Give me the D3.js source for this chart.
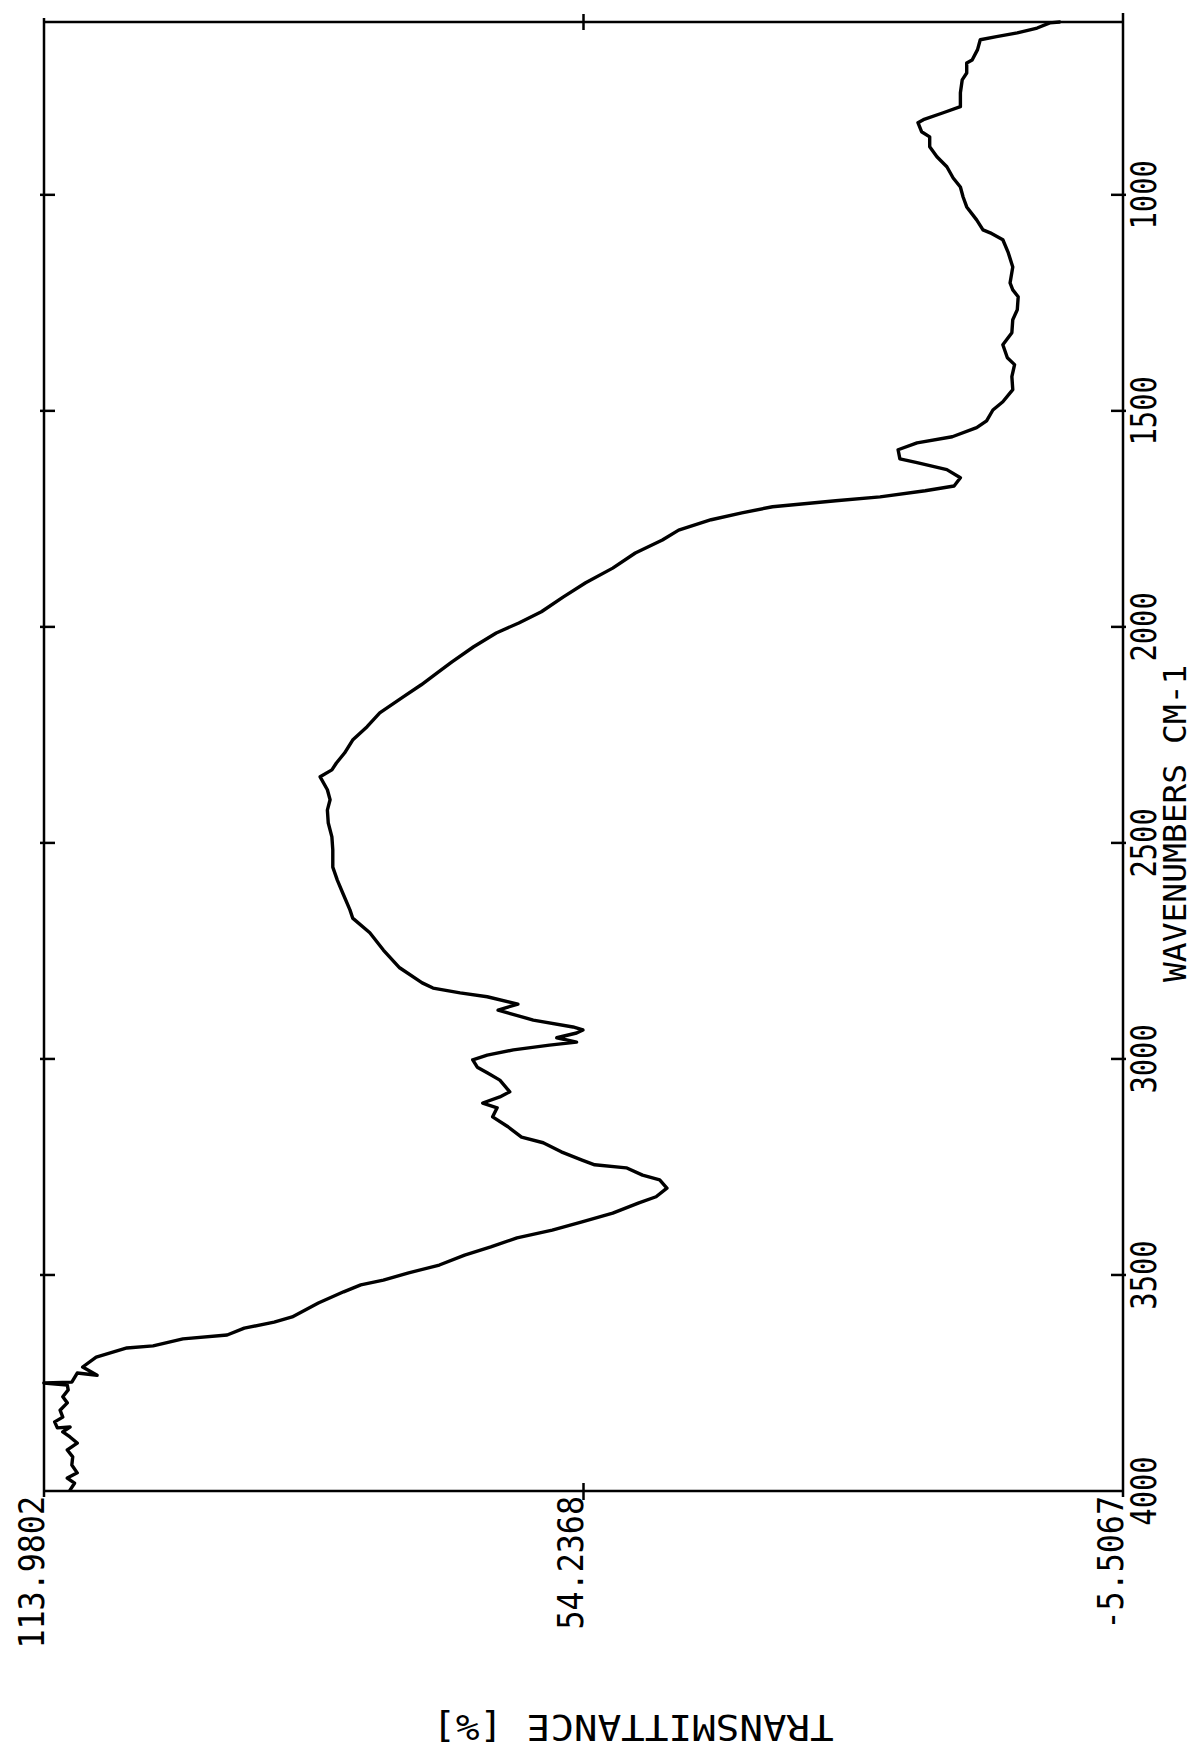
<!DOCTYPE html>
<html>
<head>
<meta charset="utf-8">
<script src="https://cdn.jsdelivr.net/npm/d3@7"></script>
<style>
  body { margin: 0; background: #fff; }
  text { font-family: "DejaVu Sans Mono", "Liberation Mono", monospace; fill: #000; }
</style>
</head>
<body>
<div id="chart"></div>
<script>
// IR spectrum, plotted in landscape and turned on its side
const wavenumbers = [3998,3982,3970,3958,3940,3921,3905,3889,3875,3863,3852,3854,3840,3829,3813,3796,3782,3766,3755,3750,
  3748,3727,3732,3713,3690,3669,3664,3648,3639,3623,3609,3597,3565,3539,3523,3512,3495,3477,3454,3435,
  3414,3396,3377,3357,3333,3319,3299,3280,3269,3252,3245,3234,3215,3194,3181,3157,3134,3113,3102,3088,
  3076,3049,3032,3019,3002,2991,2979,2968,2961,2951,2940,2933,2926,2910,2887,2873,2856,2847,2836,2824,
  2789,2748,2708,2674,2655,2616,2586,2556,2516,2486,2454,2424,2400,2377,2347,2331,2315,2292,2262,2231,
  2199,2162,2134,2106,2081,2046,2014,1991,1965,1931,1898,1864,1829,1799,1776,1752,1736,1722,1708,1699,
  1685,1674,1655,1636,1620,1611,1590,1574,1560,1539,1523,1498,1479,1451,1421,1393,1377,1347,1319,1289,
  1266,1236,1220,1204,1167,1134,1104,1088,1081,1058,1028,1005,982,961,935,912,889,866,854,833,
  826,810,796,764,734,718,695,688,664,641,634,625,614,602,600];
const transmittance = [111.1,110.6,111.4,110.3,110.9,110.8,111.4,110.3,111.1,111.9,111.1,112.5,112.8,111.9,112.2,111.4,111.9,111.3,111.4,114.0,
  110.9,110.3,108.1,109.7,108.2,104.8,101.9,98.6,93.7,91.8,88.5,86.5,83.6,80.8,78.9,76.4,73.6,70.2,67.4,64.5,
  61.6,57.7,54.4,51.0,48.1,46.2,45.0,45.8,47.7,49.5,53.0,54.4,56.7,58.7,61.1,62.6,64.3,63.8,65.4,63.5,
  62.4,63.5,64.9,66.0,66.5,64.9,62.0,58.0,55.0,57.2,55.0,54.3,55.4,59.8,63.7,61.5,64.9,67.9,70.9,72.1,
  74.6,76.4,77.9,79.8,80.1,80.9,81.5,82.0,82.0,82.1,82.5,82.6,82.3,82.6,83.4,82.1,81.6,80.7,79.8,78.2,
  76.8,74.2,72.2,70.4,68.8,66.4,63.9,61.4,58.9,56.5,54.0,51.0,48.5,45.5,43.7,40.1,36.7,33.3,26.3,21.4,
  16.4,13.2,12.5,14.0,17.3,19.2,19.4,17.3,13.4,10.7,9.6,8.9,7.8,6.7,6.8,6.5,7.3,7.8,6.8,6.7,
  6.2,6.1,6.7,7.0,6.7,7.2,7.8,9.2,10.0,10.7,11.8,12.2,12.5,13.3,14.0,15.1,15.9,15.9,16.8,17.2,
  16.6,14.4,12.5,12.5,12.3,11.8,11.8,11.2,10.6,10.3,8.5,6.2,4.0,2.6,1.5];

const wnTicks = [4000, 3500, 3000, 2500, 2000, 1500, 1000];
const tTicks = [113.9802, 54.2368, -5.5067];
const tTickLabels = ["113.9802", "54.2368", "-5.5067"];
const wnRange = [4000, 600];

const width = 1195, height = 1749;
const fontSize = 36;

const svg = d3.select("#chart").append("svg")
    .attr("width", width)
    .attr("height", height);

// transmittance runs left -> right (high to low), wavenumber bottom -> top
const xScale = d3.scaleLinear().domain([tTicks[0], tTicks[2]]).range([44, 1123]);
const yScale = d3.scaleLinear().domain(wnRange).range([1491, 22]);

const x0 = xScale.range()[0], x1 = xScale.range()[1];
const yBot = yScale.range()[0], yTop = yScale.range()[1];

// frame
const frame = svg.append("g")
    .attr("stroke", "#000")
    .attr("stroke-width", 2.5)
    .attr("fill", "none");
frame.append("line").attr("x1", x0).attr("y1", yBot).attr("x2", x1).attr("y2", yBot);
frame.append("line").attr("x1", x0).attr("y1", yTop).attr("x2", x1).attr("y2", yTop);
frame.append("line").attr("x1", x0).attr("y1", yTop - 4).attr("x2", x0).attr("y2", yBot + 6);
frame.append("line").attr("x1", x1).attr("y1", yTop - 9).attr("x2", x1).attr("y2", yBot + 6);

// wavenumber ticks on both sides
const midTicks = wnTicks.filter(d => d !== 4000);
frame.selectAll(".tickL").data(midTicks).join("line")
    .attr("x1", x0 - 4).attr("x2", x0 + 11)
    .attr("y1", d => yScale(d)).attr("y2", d => yScale(d));
frame.selectAll(".tickR").data(midTicks).join("line")
    .attr("x1", x1 - 12).attr("x2", x1 + 3)
    .attr("y1", d => yScale(d)).attr("y2", d => yScale(d));

// transmittance tick in the middle, top and bottom
frame.append("line")
    .attr("x1", xScale(tTicks[1])).attr("x2", xScale(tTicks[1]))
    .attr("y1", yBot - 8).attr("y2", yBot + 9);
frame.append("line")
    .attr("x1", xScale(tTicks[1])).attr("x2", xScale(tTicks[1]))
    .attr("y1", yTop - 8).attr("y2", yTop + 8);

// spectrum
const spectrum = d3.zip(wavenumbers, transmittance);
const line = d3.line()
    .x(d => xScale(d[1]))
    .y(d => yScale(d[0]));

svg.append("path")
    .datum(spectrum)
    .attr("d", line)
    .attr("fill", "none")
    .attr("stroke", "#000")
    .attr("stroke-width", 3.4)
    .attr("stroke-linejoin", "round")
    .attr("stroke-linecap", "round");

// wavenumber labels, turned to read upward (plotter font is narrow)
svg.selectAll(".wnLabel").data(wnTicks).join("text")
    .attr("class", "wnLabel")
    .attr("transform", d => `translate(1156,${yScale(d)}) rotate(-90) scale(0.8,1)`)
    .attr("text-anchor", "middle")
    .style("font-size", fontSize + "px")
    .text(d => d);

svg.append("text")
    .attr("transform", "translate(1186,982) rotate(-90) scale(1.03,1)")
    .attr("text-anchor", "start")
    .style("font-size", "32px")
    .text("WAVENUMBERS CM-1");

// transmittance labels
svg.selectAll(".tLabel").data(tTicks).join("text")
    .attr("class", "tLabel")
    .attr("transform", d => `translate(${xScale(d)},${yBot + 5}) rotate(-90) scale(0.88,1)`)
    .attr("text-anchor", "end")
    .style("font-size", fontSize + "px")
    .text((d, i) => tTickLabels[i]);

// axis title, upside down
svg.append("text")
    .attr("transform", "translate(633,1715) rotate(180) scale(1.09,1)")
    .attr("text-anchor", "middle")
    .style("font-size", fontSize + "px")
    .text("TRANSMITTANCE [%]");
</script>
</body>
</html>
